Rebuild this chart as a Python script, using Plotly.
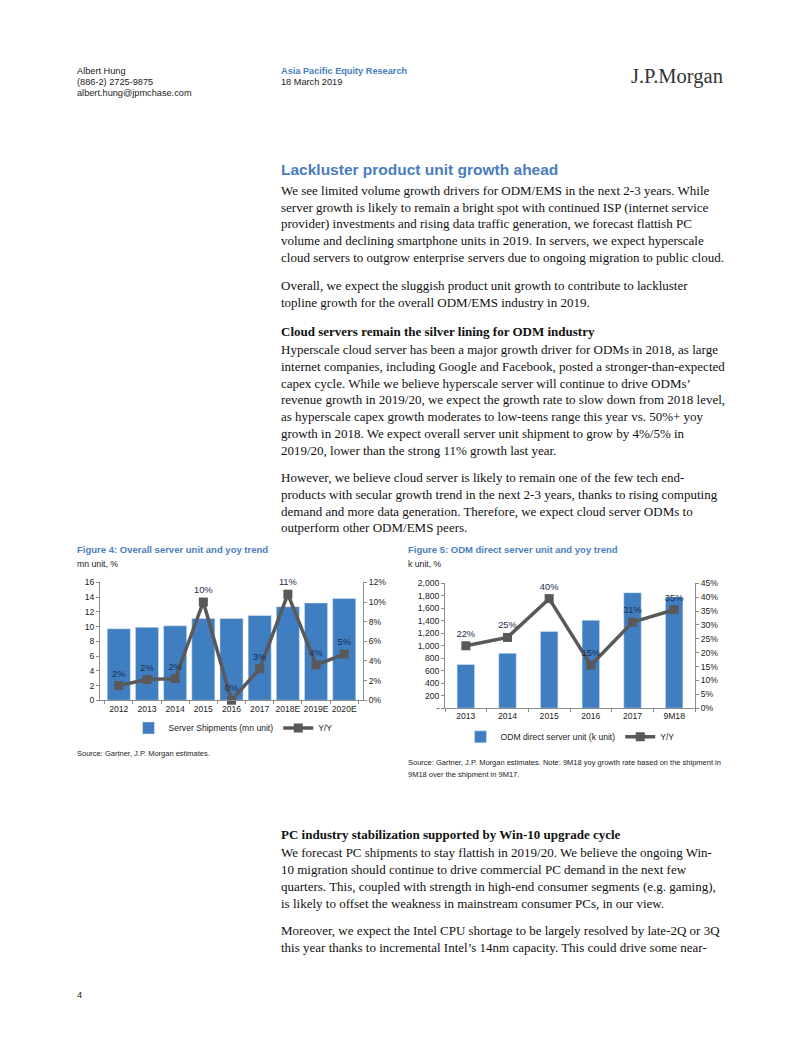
import plotly.graph_objects as go

W, H = 802, 1037

# ---------------- data ----------------
fig4_years = ["2012", "2013", "2014", "2015", "2016", "2017", "2018E", "2019E", "2020E"]
fig4_shipments = [9.7, 9.9, 10.1, 11.1, 11.1, 11.5, 12.7, 13.2, 13.8]
fig4_yoy = [1.5, 2.1, 2.2, 10.0, 0.0, 3.2, 10.8, 3.6, 4.7]
fig4_yoy_labels = ["2%", "2%", "2%", "10%", "0%", "3%", "11%", "4%", "5%"]

fig5_years = ["2013", "2014", "2015", "2016", "2017", "9M18"]
fig5_units = [700, 880, 1230, 1410, 1850, 1780]
fig5_yoy = [22.5, 25.5, 39.5, 15.5, 31.0, 35.5]
fig5_yoy_labels = ["22%", "25%", "40%", "15%", "31%", "35%"]

fig4_left_ticks = [0, 2, 4, 6, 8, 10, 12, 14, 16]
fig4_right_ticks = [0, 2, 4, 6, 8, 10, 12]
fig5_left_ticks = [0, 200, 400, 600, 800, 1000, 1200, 1400, 1600, 1800, 2000]
fig5_left_labels = ["-", "200", "400", "600", "800", "1,000", "1,200", "1,400", "1,600", "1,800", "2,000"]
fig5_right_ticks = [0, 5, 10, 15, 20, 25, 30, 35, 40, 45]

BAR = "#3f7fc1"
LINE = "#595959"
BLUE = "#4a7ebb"
SANS = "Liberation Sans, Arial"
SERIF = "Liberation Serif, Times New Roman"
CF = 8.6  # chart font size


def px(x):
    return x / W


def py(y):
    return 1 - y / H


fig = go.Figure()

# ---------------- Figure 4 ----------------
fig.add_trace(go.Bar(x=fig4_years, y=fig4_shipments, name="Server Shipments (mn unit)",
                     marker_color=BAR, xaxis="x", yaxis="y", legend="legend"))
fig.add_trace(go.Scatter(x=fig4_years, y=fig4_yoy, name="Y/Y", mode="lines+markers+text",
                         text=fig4_yoy_labels, textposition="top center",
                         textfont=dict(family=SANS, size=9.3, color="#1c2d4f"),
                         line=dict(color=LINE, width=3.5),
                         marker=dict(symbol="square", size=9, color=LINE),
                         xaxis="x", yaxis="y2", legend="legend", cliponaxis=False))

# ---------------- Figure 5 ----------------
fig.add_trace(go.Bar(x=fig5_years, y=fig5_units, name="ODM direct server unit (k unit)",
                     marker_color=BAR, xaxis="x2", yaxis="y3", legend="legend2", width=0.42))
fig.add_trace(go.Scatter(x=fig5_years, y=fig5_yoy, name="Y/Y", mode="lines+markers+text",
                         text=fig5_yoy_labels, textposition="top center",
                         textfont=dict(family=SANS, size=9.3, color="#1c2d4f"),
                         line=dict(color=LINE, width=3.5),
                         marker=dict(symbol="square", size=9, color=LINE),
                         xaxis="x2", yaxis="y4", legend="legend2", cliponaxis=False))

tickfont = dict(family=SANS, size=CF, color="#222")
axis_common = dict(showgrid=False, zeroline=False, showline=True, linecolor="#8c8c8c",
                   linewidth=1, ticks="outside", ticklen=3, tickcolor="#8c8c8c",
                   tickfont=tickfont, fixedrange=True)
xaxis_common = dict(showgrid=False, zeroline=False, showline=True, linecolor="#8c8c8c",
                    ticks="outside", tickson="boundaries", ticklen=3, tickcolor="#8c8c8c",
                    tickangle=0, tickfont=tickfont, fixedrange=True)

fig.update_layout(
    width=W, height=H,
    margin=dict(l=0, r=0, t=0, b=0),
    paper_bgcolor="white", plot_bgcolor="white",
    bargap=0.18,
    xaxis=dict(domain=[px(100), px(363)], anchor="y", **xaxis_common),
    yaxis=dict(domain=[py(702), py(583)], range=[0, 16], tickvals=fig4_left_ticks, anchor="x",
               **axis_common),
    yaxis2=dict(range=[0, 12], tickvals=fig4_right_ticks,
                ticktext=[f"{v}%" for v in fig4_right_ticks],
                overlaying="y", side="right", anchor="x", **axis_common),
    xaxis2=dict(domain=[px(445), px(695)], anchor="y3", **xaxis_common),
    yaxis3=dict(domain=[py(710), py(584)], range=[0, 2000], tickvals=fig5_left_ticks,
                ticktext=fig5_left_labels, anchor="x2", **axis_common),
    yaxis4=dict(range=[0, 45], tickvals=fig5_right_ticks,
                ticktext=[f"{v}%" for v in fig5_right_ticks],
                overlaying="y3", side="right", anchor="x2", **axis_common),
    legend=dict(orientation="h", x=px(233), xanchor="center", y=py(730), yanchor="middle",
                font=dict(family=SANS, size=8.6, color="#222"), itemwidth=30,
                bgcolor="rgba(0,0,0,0)", traceorder="normal"),
    legend2=dict(orientation="h", x=px(570), xanchor="center", y=py(739), yanchor="middle",
                 font=dict(family=SANS, size=8.6, color="#222"), itemwidth=30,
                 bgcolor="rgba(0,0,0,0)", traceorder="normal"),
    showlegend=True,
)

ann = []


def text(x, y, s, size=13.0, family=SERIF, color="#111", bold=False):
    if bold:
        s = f"<b>{s}</b>"
    ann.append(dict(x=px(x), y=py(y), xref="paper", yref="paper", text=s, showarrow=False,
                    xanchor="left", yanchor="middle", align="left",
                    font=dict(family=family, size=size, color=color)))


# header
text(75, 67, "Albert Hung", 9.2, SANS, "#222")
text(75, 78, "(886-2) 2725-9875", 9.2, SANS, "#222")
text(75, 89, "albert.hung@jpmchase.com", 9.2, SANS, "#222")
text(279, 67, "Asia Pacific Equity Research", 9.2, SANS, BLUE, bold=True)
text(279, 78, "18 March 2019", 9.2, SANS, "#222")
text(629, 72, "J.P.Morgan", 20.5, SERIF, "#333")

# section heading
text(279, 166, "Lackluster product unit growth ahead", 15.5, SANS, BLUE, bold=True)

para1 = [
    "We see limited volume growth drivers for ODM/EMS in the next 2-3 years. While",
    "server growth is likely to remain a bright spot with continued ISP (internet service",
    "provider) investments and rising data traffic generation, we forecast flattish PC",
    "volume and declining smartphone units in 2019. In servers, we expect hyperscale",
    "cloud servers to outgrow enterprise servers due to ongoing migration to public cloud.",
]
for i, s in enumerate(para1):
    text(279, 187 + 17 * i, s)

para2 = [
    "Overall, we expect the sluggish product unit growth to contribute to lackluster",
    "topline growth for the overall ODM/EMS industry in 2019.",
]
for i, s in enumerate(para2):
    text(279, 283 + 17 * i, s)

text(279, 330, "Cloud servers remain the silver lining for ODM industry", 13.0, SERIF, "#111", bold=True)
para3 = [
    "Hyperscale cloud server has been a major growth driver for ODMs in 2018, as large",
    "internet companies, including Google and Facebook, posted a stronger-than-expected",
    "capex cycle. While we believe hyperscale server will continue to drive ODMs\u2019",
    "revenue growth in 2019/20, we expect the growth rate to slow down from 2018 level,",
    "as hyperscale capex growth moderates to low-teens range this year vs. 50%+ yoy",
    "growth in 2018. We expect overall server unit shipment to grow by 4%/5% in",
    "2019/20, lower than the strong 11% growth last year.",
]
for i, s in enumerate(para3):
    text(279, 347.5 + 17.1 * i, s)

para4 = [
    "However, we believe cloud server is likely to remain one of the few tech end-",
    "products with secular growth trend in the next 2-3 years, thanks to rising computing",
    "demand and more data generation. Therefore, we expect cloud server ODMs to",
    "outperform other ODM/EMS peers.",
]
for i, s in enumerate(para4):
    text(279, 477 + 17 * i, s)

# figure titles
text(75, 550, "Figure 4: Overall server unit and yoy trend", 9.5, SANS, BLUE, bold=True)
text(75, 564, "mn unit, %", 8.7, SANS, "#222")
text(75, 756, "Source: Gartner, J.P. Morgan estimates.", 7.5, SANS, "#222")

text(406, 550, "Figure 5: ODM direct server unit and yoy trend", 9.5, SANS, BLUE, bold=True)
text(406, 564, "k unit, %", 8.7, SANS, "#222")
text(406, 765, "Source: Gartner, J.P. Morgan estimates. Note: 9M18 yoy growth rate based on the shipment in", 7.5, SANS, "#222")
text(406, 777, "9M18 over the shipment in 9M17.", 7.5, SANS, "#222")

text(279, 838, "PC industry stabilization supported by Win-10 upgrade cycle", 13.0, SERIF, "#111", bold=True)
para5 = [
    "We forecast PC shipments to stay flattish in 2019/20. We believe the ongoing Win-",
    "10 migration should continue to drive commercial PC demand in the next few",
    "quarters. This, coupled with strength in high-end consumer segments (e.g. gaming),",
    "is likely to offset the weakness in mainstream consumer PCs, in our view.",
]
for i, s in enumerate(para5):
    text(279, 856 + 17 * i, s)

para6 = [
    "Moreover, we expect the Intel CPU shortage to be largely resolved by late-2Q or 3Q",
    "this year thanks to incremental Intel\u2019s 14nm capacity. This could drive some near-",
]
for i, s in enumerate(para6):
    text(279, 935 + 17 * i, s)

text(75, 1000, "4", 9.2, SANS, "#222")

fig.update_layout(annotations=ann)
fig.write_html("out.html", config={"displayModeBar": False},
               post_script="document.body.style.margin='0';document.body.style.overflow='hidden';"
                           "document.documentElement.style.overflow='hidden';")
